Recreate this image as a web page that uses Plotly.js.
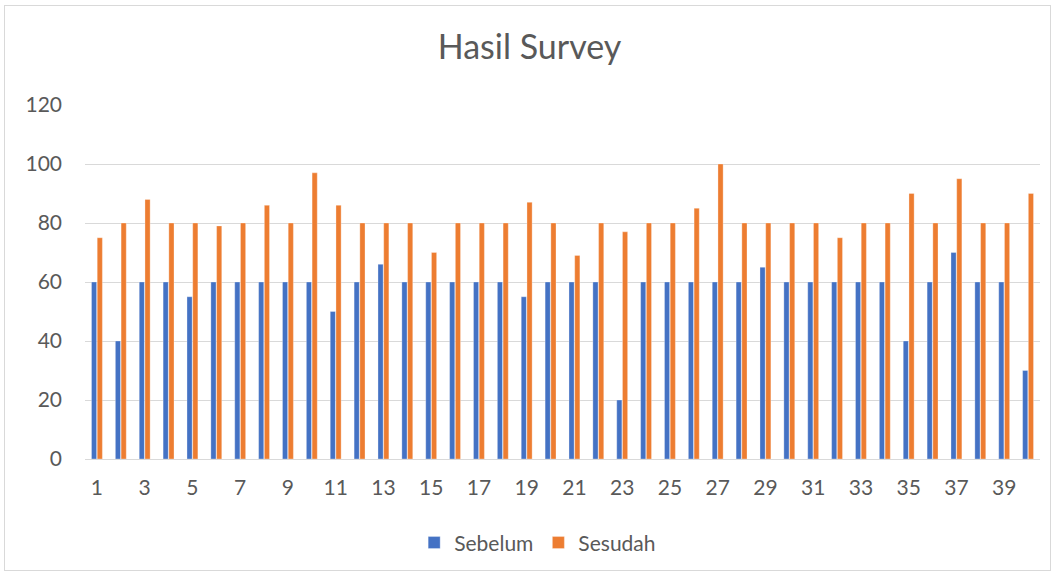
<!DOCTYPE html>
<html>
<head>
<meta charset="utf-8">
<script src="https://cdn.plot.ly/plotly-3.0.1.min.js"></script>
<style>
  html, body { margin: 0; padding: 0; background: #ffffff; }
  #frame { position: absolute; left: 4px; top: 5px; width: 1047px; height: 566px; border: 1px solid #d9d9d9; box-sizing: border-box; }
  #chart { position: absolute; left: 0; top: 0; width: 1059px; height: 576px; }
</style>
</head>
<body>
<div id="frame"></div>
<div id="chart"></div>
<script>
const categories = ["1","2","3","4","5","6","7","8","9","10","11","12","13","14","15","16","17","18","19","20","21","22","23","24","25","26","27","28","29","30","31","32","33","34","35","36","37","38","39","40"];
const sebelum = [60,40,60,60,55,60,60,60,60,60,50,60,66,60,60,60,60,60,55,60,60,60,20,60,60,60,60,60,65,60,60,60,60,60,40,60,70,60,60,30];
const sesudah = [75,80,88,80,80,79,80,86,80,97,86,80,80,80,70,80,80,80,87,80,69,80,77,80,80,85,100,80,80,80,80,75,80,80,90,80,95,80,80,90];
const xTickLabels = ["1","3","5","7","9","11","13","15","17","19","21","23","25","27","29","31","33","35","37","39"];

const fontFam = "Lato, 'Open Sans', sans-serif";
const data = [
  { type: "bar", name: "Sebelum", x: categories, y: sebelum,
    marker: { color: "#4472c4", line: { color: "rgba(255,255,255,0.6)", width: 0.5 } } },
  { type: "bar", name: "Sesudah", x: categories, y: sesudah,
    marker: { color: "#ed7d31", line: { color: "rgba(255,255,255,0.6)", width: 0.5 } } }
];
const layout = {
  width: 1059, height: 576,
  paper_bgcolor: "rgba(0,0,0,0)", plot_bgcolor: "rgba(0,0,0,0)",
  margin: { l: 85, r: 19, t: 105, b: 117 },
  barmode: "group", bargap: 0.52, bargroupgap: 0.1,
  title: { text: "Hasil Survey", x: 0.5, xanchor: "center", y: 0.918, yanchor: "middle",
           font: { family: fontFam, size: 34, color: "#595959" } },
  xaxis: { type: "category", tickmode: "array", tickvals: xTickLabels, ticktext: xTickLabels,
           showgrid: false, showline: true, linecolor: "#d9d9d9", linewidth: 1, ticks: "",
           ticklabelstandoff: 10,
           tickfont: { family: fontFam, size: 21, color: "#595959" }, fixedrange: true },
  yaxis: { range: [0, 120], tick0: 0, dtick: 20, showgrid: true, gridcolor: "#d9d9d9", gridwidth: 1,
           zeroline: false, showline: false, ticks: "", ticklabelstandoff: 22,
           tickfont: { family: fontFam, size: 21, color: "#595959" } },
  legend: { orientation: "h", x: 0.474, xanchor: "center", y: -0.237, yanchor: "middle",
            font: { family: fontFam, size: 21, color: "#595959" }, itemwidth: 30 },
  showlegend: true
};
Plotly.newPlot("chart", data, layout, { staticPlot: true, displayModeBar: false });
</script>
</body>
</html>
